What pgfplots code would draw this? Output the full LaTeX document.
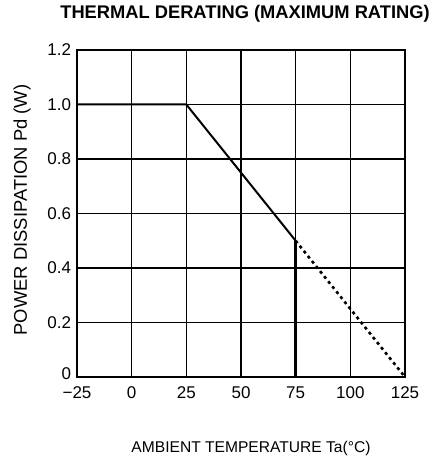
\documentclass[border=0pt]{standalone}
\usepackage{pgfplots}
\pgfplotsset{compat=1.18}
\usepackage{fontspec}
\setmainfont{Liberation Sans}
\begin{document}
\begin{tikzpicture}[x=1pt,y=1pt]
\path (-77,-85) rectangle (358,377);
\begin{axis}[
  at={(0,0)}, anchor=south west,
  scale only axis, width=328pt, height=327pt,
  xmin=-25, xmax=125, ymin=0, ymax=1.2,
  xtick={-25,0,25,50,75,100,125},
  xticklabels={−25,0,25,50,75,100,125},
  ytick={0.2,0.4,0.6,0.8,1.0,1.2},
  yticklabels={0.2,0.4,0.6,0.8,1.0,1.2},
  extra y ticks={0},
  extra y tick labels={0},
  extra y tick style={grid=none, yticklabel style={yshift=3pt}},
  /pgf/number format/assume math mode=true,
  grid=major,
  grid style={black, line width=1.2pt},
  axis line style={black, line width=1.8pt},
  major tick length=0pt,
  xticklabel style={font=\fontsize{17}{19}\selectfont, inner sep=1pt, yshift=-8.7pt},
  yticklabel style={font=\fontsize{17}{19}\selectfont, inner sep=1pt, xshift=-4.7pt},
  clip=false,
]
\addplot[black, line width=2pt] coordinates {(-25,1.0) (25,1.0) (75,0.5)};
\addplot[black, line width=2.6pt, dash pattern=on 3pt off 3.5pt] coordinates {(75,0.5) (125,0)};
\addplot[black, line width=2.4pt] coordinates {(75,0) (75,0.5)};
\end{axis}
\node[font=\bfseries\fontsize{18.3}{20}\selectfont] at (168,363) {THERMAL DERATING (MAXIMUM RATING)};
\node[font=\fontsize{15.6}{18}\selectfont] at (174,-71) {AMBIENT TEMPERATURE Ta(°C)};
\node[font=\fontsize{18.4}{20}\selectfont, rotate=90] at (-55,167) {POWER DISSIPATION Pd (W)};
\end{tikzpicture}
\end{document}
